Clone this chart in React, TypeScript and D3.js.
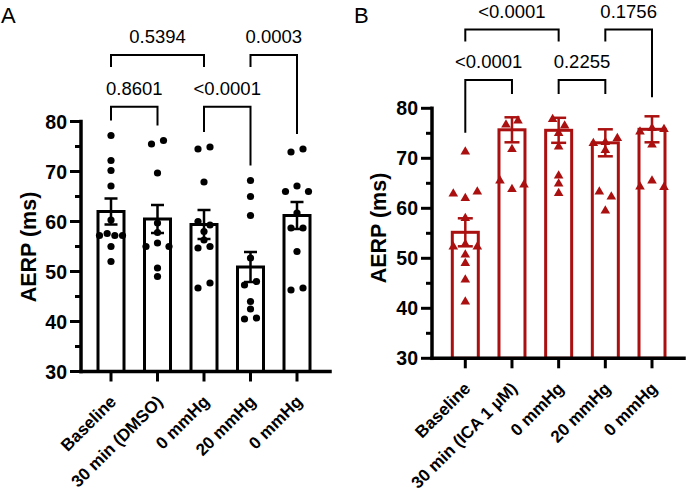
import React from "react";
import * as d3 from "d3";

const categoriesA = ["Baseline", "30 min (DMSO)", "0 mmHg", "20 mmHg", "0 mmHg"];
const categoriesB = ["Baseline", "30 min (ICA 1 \u00B5M)", "0 mmHg", "20 mmHg", "0 mmHg"];

const meansA = [62.0, 60.5, 59.4, 50.9, 61.2];
const semA = [2.6, 2.8, 2.9, 3.0, 2.7];
const meansB = [55.2, 75.7, 75.6, 73.1, 75.8];
const semB = [2.8, 2.5, 2.5, 2.7, 2.6];

const pointsA = [
  [77.2, 72.2, 70.2, 67.1, 60.3, 57.2, 57.6, 57.2, 57.2, 55.0, 52.0],
  [75.5, 76.2, 69.7, 59.7, 57.8, 55.0, 55.7, 55.0, 50.7, 49.0],
  [74.5, 74.9, 67.9, 60.0, 59.3, 58.0, 56.3, 54.7, 55.0, 46.7, 47.7],
  [68.2, 65.0, 61.2, 52.7, 47.3, 48.0, 44.0, 42.5, 40.5, 40.7],
  [73.9, 74.5, 66.0, 67.1, 66.0, 61.7, 58.7, 58.7, 54.0, 46.3, 46.7],
];
const pointsB = [
  [71.3, 62.9, 62.0, 63.3, 58.0, 52.3, 52.8, 52.3, 50.7, 49.0, 45.7, 41.3],
  [76.7, 77.5, 71.8, 65.5, 63.8, 64.7],
  [77.8, 76.5, 75.0, 72.3, 66.5, 64.9, 63.0],
  [73.0, 73.2, 74.0, 71.6, 63.3, 62.3, 59.5],
  [75.3, 76.0, 75.8, 72.7, 64.3, 65.5, 64.2],
];

const comparisonsA = [
  { from: 0, to: 1, p: "0.8601", tier: 0 },
  { from: 2, to: 3, p: "<0.0001", tier: 0 },
  { from: 0, to: 2, p: "0.5394", tier: 1 },
  { from: 3, to: 4, p: "0.0003", tier: 1 },
];
const comparisonsB = [
  { from: 0, to: 1, p: "<0.0001", tier: 0 },
  { from: 2, to: 3, p: "0.2255", tier: 0 },
  { from: 0, to: 2, p: "<0.0001", tier: 1 },
  { from: 3, to: 4, p: "0.1756", tier: 1 },
];

const yDomain = [30, 80];
const yTicks = [30, 40, 50, 60, 70, 80];
const yMinorTicks = [35, 45, 55, 65, 75];
const yTitle = "AERP (ms)";

const boldFont = "'Liberation Sans', Arial, Helvetica, sans-serif";
const labelFont = "'Liberation Sans', Arial, sans-serif";

type Cfg = {
  letter: string;
  letterX: number;
  categories: string[];
  means: number[];
  sems: number[];
  points: number[][];
  comps: { from: number; to: number; p: string; tier: number }[];
  color: string;
  shape: "circle" | "triangle";
  axisX: number;
  xEnd: number;
  yBot: number;
  yTop: number;
  c0: number;
  c1: number;
  tierY: number[];
  titleX: number;
  titleY: number;
  gap: number;
  threshold: number;
  spacing: number;
  maxSpan: number;
  cluster: number;
  capW: number;
};

function swarmOffsets(values: number[], y: (v: number) => number, spacing: number, maxSpan: number, threshold: number) {
  const idx = values.map((_, i) => i).sort((a, b) => values[b] - values[a]);
  const clusters: number[][] = [];
  let cur: number[] = [];
  idx.forEach((i, k) => {
    if (k > 0 && Math.abs(y(values[i]) - y(values[idx[k - 1]])) >= threshold) {
      clusters.push(cur);
      cur = [];
    }
    cur.push(i);
  });
  if (cur.length) clusters.push(cur);
  const off = new Array(values.length).fill(0);
  clusters.forEach((c) => {
    c.sort((a, b) => a - b);
    const n = c.length;
    const s = n > 1 ? Math.min(spacing, maxSpan / (n - 1)) : 0;
    c.forEach((i, k) => (off[i] = (k - (n - 1) / 2) * s));
  });
  return off;
}

function Panel({ cfg }: { cfg: Cfg }) {
  const n = cfg.categories.length;
  const y = d3.scaleLinear().domain(yDomain).range([cfg.yBot, cfg.yTop]);
  const x = d3.scalePoint<number>().domain(d3.range(n)).range([cfg.c0, cfg.c1]);
  const barW = 26;
  const tri = d3.symbol().type(d3.symbolTriangle).size(40)() as string;

  const colTop = (i: number) =>
    y(Math.max(cfg.means[i] + cfg.sems[i], d3.max(cfg.points[i]) as number));
  const hasLower = (i: number) => cfg.comps.some((c) => c.tier === 0 && (c.from === i || c.to === i));
  const legEnd = (i: number, tier: number) => {
    const h = cfg.tierY[tier];
    if (tier === 1 && hasLower(i)) return h + 12;
    const e = colTop(i) - cfg.gap;
    return e - h > cfg.threshold ? e : h + 14;
  };

  return (
    <g>
      <text x={cfg.letterX} y={23} fontFamily={labelFont} fontSize={22} fill="#000">
        {cfg.letter}
      </text>
      {cfg.means.map((m, i) => (
        <rect
          key={"bar" + i}
          x={(x(i) as number) - barW / 2}
          y={y(m)}
          width={barW}
          height={cfg.yBot - y(m)}
          fill="#fff"
          stroke={cfg.color}
          strokeWidth={3}
        />
      ))}
      {cfg.points.map((vals, i) => {
        const off = swarmOffsets(vals, y, cfg.spacing, cfg.maxSpan, cfg.cluster);
        return vals.map((v, k) =>
          cfg.shape === "circle" ? (
            <circle key={`p${i}-${k}`} cx={(x(i) as number) + off[k]} cy={y(v)} r={3.6} fill={cfg.color} />
          ) : (
            <path
              key={`p${i}-${k}`}
              d={tri}
              transform={`translate(${(x(i) as number) + off[k]},${y(v)})`}
              fill={cfg.color}
            />
          )
        );
      })}
      {cfg.means.map((m, i) => {
        const cx = x(i) as number;
        const hi = y(m + cfg.sems[i]);
        const lo = y(m - cfg.sems[i]);
        return (
          <g key={"err" + i} stroke={cfg.color} strokeWidth={2.5}>
            <line x1={cx} x2={cx} y1={hi} y2={lo} />
            <line x1={cx - cfg.capW / 2} x2={cx + cfg.capW / 2} y1={hi} y2={hi} />
            <line x1={cx - cfg.capW / 2} x2={cx + cfg.capW / 2} y1={lo} y2={lo} />
          </g>
        );
      })}
      <g stroke="#000" strokeLinecap="square">
        <line x1={cfg.axisX} x2={cfg.axisX} y1={cfg.yBot} y2={cfg.yTop} strokeWidth={3.5} />
        <line x1={cfg.axisX} x2={cfg.xEnd} y1={cfg.yBot} y2={cfg.yBot} strokeWidth={3.5} />
      </g>
      {yTicks.map((t) => (
        <g key={"yt" + t}>
          <line x1={cfg.axisX - 11} x2={cfg.axisX} y1={y(t)} y2={y(t)} stroke="#000" strokeWidth={3} />
          <text
            x={cfg.axisX - 14}
            y={y(t)}
            dy="0.36em"
            textAnchor="end"
            fontFamily={boldFont}
            fontWeight="bold"
            fontSize={19.5}
          >
            {t}
          </text>
        </g>
      ))}
      {yMinorTicks.map((t) => (
        <line key={"ym" + t} x1={cfg.axisX - 6} x2={cfg.axisX} y1={y(t)} y2={y(t)} stroke="#000" strokeWidth={3} />
      ))}
      <text
        transform={`translate(${cfg.titleX},${cfg.titleY}) rotate(-90)`}
        dy="0.36em"
        textAnchor="middle"
        fontFamily={boldFont}
        fontWeight="bold"
        fontSize={21.5}
      >
        {yTitle}
      </text>
      {cfg.categories.map((c, i) => {
        const cx = x(i) as number;
        return (
          <g key={"xt" + i}>
            <line x1={cx} x2={cx} y1={cfg.yBot} y2={cfg.yBot + 10} stroke="#000" strokeWidth={3} />
            <text
              transform={`translate(${cx},${cfg.yBot + 25}) rotate(-45)`}
              dy="0.52em"
              textAnchor="end"
              fontFamily={boldFont}
              fontWeight="bold"
              fontSize={17}
            >
              {c}
            </text>
          </g>
        );
      })}
      {cfg.comps.map((c, k) => {
        const xa = x(c.from) as number;
        const xb = x(c.to) as number;
        const h = cfg.tierY[c.tier];
        const ea = legEnd(c.from, c.tier);
        const eb = legEnd(c.to, c.tier);
        return (
          <g key={"cmp" + k}>
            <path d={`M${xa},${ea}V${h}H${xb}V${eb}`} fill="none" stroke="#000" strokeWidth={2} />
            <text
              x={(xa + xb) / 2}
              y={h - 11.8}
              textAnchor="middle"
              fontFamily={labelFont}
              fontSize={18.5}
              fill="#000"
            >
              {c.p}
            </text>
          </g>
        );
      })}
    </g>
  );
}

const panelA: Cfg = {
  letter: "A",
  letterX: 1,
  categories: categoriesA,
  means: meansA,
  sems: semA,
  points: pointsA,
  comps: comparisonsA,
  color: "#000",
  shape: "circle",
  axisX: 81,
  xEnd: 330,
  yBot: 371.5,
  yTop: 121.5,
  c0: 111,
  c1: 297,
  tierY: [106.7, 55],
  titleX: 28,
  titleY: 247,
  gap: 15,
  threshold: 0,
  spacing: 12,
  maxSpan: 23,
  cluster: 6,
  capW: 13,
};

const panelB: Cfg = {
  letter: "B",
  letterX: 354,
  categories: categoriesB,
  means: meansB,
  sems: semB,
  points: pointsB,
  comps: comparisonsB,
  color: "#ab1010",
  shape: "triangle",
  axisX: 432,
  xEnd: 684,
  yBot: 358.3,
  yTop: 108.3,
  c0: 465.3,
  c1: 652,
  tierY: [80, 29.6],
  titleX: 378,
  titleY: 228,
  gap: 19,
  threshold: 40,
  spacing: 12,
  maxSpan: 24,
  cluster: 7,
  capW: 15,
};

export default function App() {
  return (
    <svg
      width={686}
      height={496}
      viewBox="0 0 686 496"
      style={{ position: "absolute", left: 0, top: 0, background: "#fff" }}
    >
      <rect width={686} height={496} fill="#fff" />
      <Panel cfg={panelA} />
      <Panel cfg={panelB} />
    </svg>
  );
}
